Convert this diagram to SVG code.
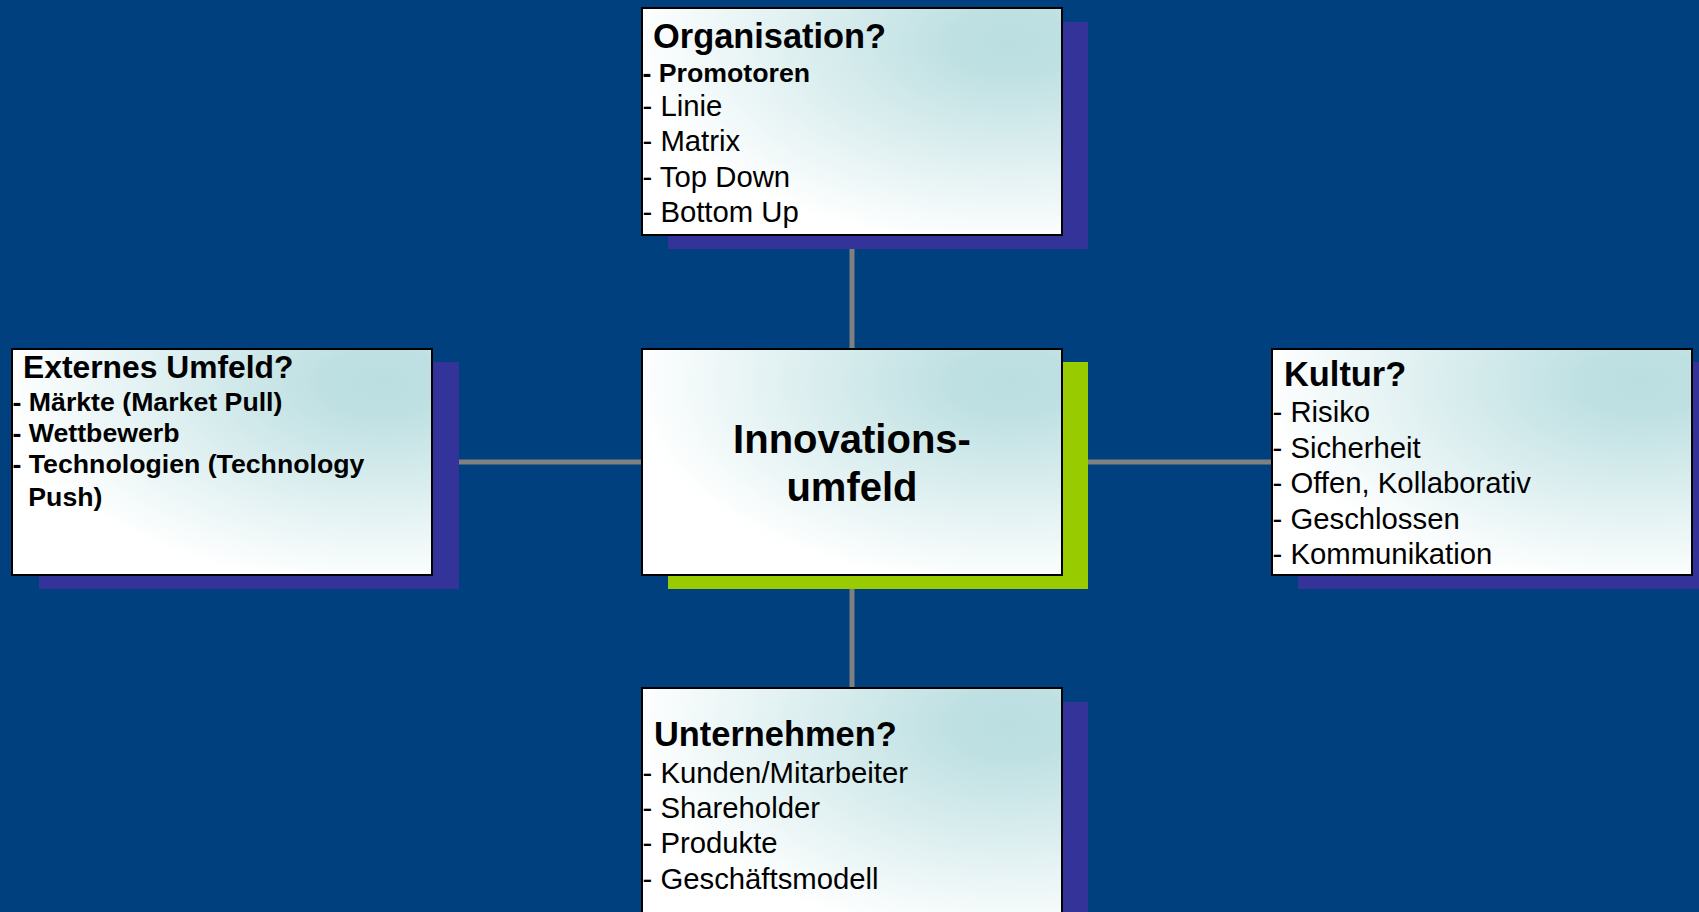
<svg xmlns="http://www.w3.org/2000/svg" width="1699" height="912" viewBox="0 0 1699 912">
<defs>
<radialGradient id="boxfill" cx="0.88" cy="0.15" r="0.9" fx="0.88" fy="0.15">
<stop offset="0" stop-color="#BBDFE1"/>
<stop offset="0.15" stop-color="#BEE0E2"/>
<stop offset="1" stop-color="#FFFFFF"/>
</radialGradient>
<style>
.box{fill:url(#boxfill);stroke:#000;stroke-width:2}
.shadow{fill:#333399}
.green{fill:#99CC00}
.conn{stroke:#808080;stroke-width:5;fill:none}
text{font-family:"Liberation Sans",Arial,sans-serif;fill:#000}
.title{font-size:34.4px;font-weight:bold}
.item{font-size:29.3px}
.bitem{font-size:26.7px;font-weight:bold}
.center{font-size:40px;font-weight:bold;text-anchor:middle}
</style>
</defs>
<rect x="0" y="0" width="1699" height="912" fill="#00407F"/>
<g id="connectors">
<line class="conn" x1="852" y1="248" x2="852" y2="349"/>
<line class="conn" x1="852" y1="588" x2="852" y2="688"/>
<line class="conn" x1="459" y1="462" x2="642" y2="462"/>
<line class="conn" x1="1088" y1="462" x2="1271" y2="462"/>
</g>
<g id="organisation">
<rect class="shadow" x="668" y="22" width="420" height="227"/>
<rect class="box" x="642" y="8" width="420" height="227"/>
<text class="title" x="653" y="47.7">Organisation?</text>
<text class="bitem" x="642.5" y="81.7">- Promotoren</text>
<text class="item" x="642.5" y="115.5">- Linie</text>
<text class="item" x="642.5" y="151">- Matrix</text>
<text class="item" x="642.5" y="186.5">- Top Down</text>
<text class="item" x="642.5" y="222">- Bottom Up</text>
</g>
<g id="externes">
<rect class="shadow" x="39" y="362" width="420" height="227"/>
<rect class="box" x="12" y="349" width="420" height="226"/>
<text class="title" x="23" y="377.5" style="font-size:31.8px">Externes Umfeld?</text>
<text class="bitem" x="12.5" y="410.7">- Märkte (Market Pull)</text>
<text class="bitem" x="12.5" y="441.7">- Wettbewerb</text>
<text class="bitem" x="12.5" y="473.3">- Technologien (Technology</text>
<text class="bitem" x="28.3" y="505.7">Push)</text>
</g>
<g id="innovationsumfeld">
<rect class="green" x="668" y="362" width="420" height="227"/>
<rect class="box" x="642" y="349" width="420" height="226"/>
<text class="center" x="852" y="453.3">Innovations-</text>
<text class="center" x="852" y="501">umfeld</text>
</g>
<g id="kultur">
<rect class="shadow" x="1298" y="362" width="420" height="227"/>
<rect class="box" x="1272" y="349" width="420" height="226"/>
<text class="title" x="1284" y="385.7">Kultur?</text>
<text class="item" x="1272.5" y="422.3">- Risiko</text>
<text class="item" x="1272.5" y="458">- Sicherheit</text>
<text class="item" x="1272.5" y="492.5">- Offen, Kollaborativ</text>
<text class="item" x="1272.5" y="528.7">- Geschlossen</text>
<text class="item" x="1272.5" y="564">- Kommunikation</text>
</g>
<g id="unternehmen">
<rect class="shadow" x="668" y="702" width="420" height="227"/>
<rect class="box" x="642" y="688" width="420" height="240"/>
<text class="title" x="654" y="745.7">Unternehmen?</text>
<text class="item" x="642.5" y="783.3">- Kunden/Mitarbeiter</text>
<text class="item" x="642.5" y="818.3">- Shareholder</text>
<text class="item" x="642.5" y="853.3">- Produkte</text>
<text class="item" x="642.5" y="889">- Geschäftsmodell</text>
</g>
</svg>
